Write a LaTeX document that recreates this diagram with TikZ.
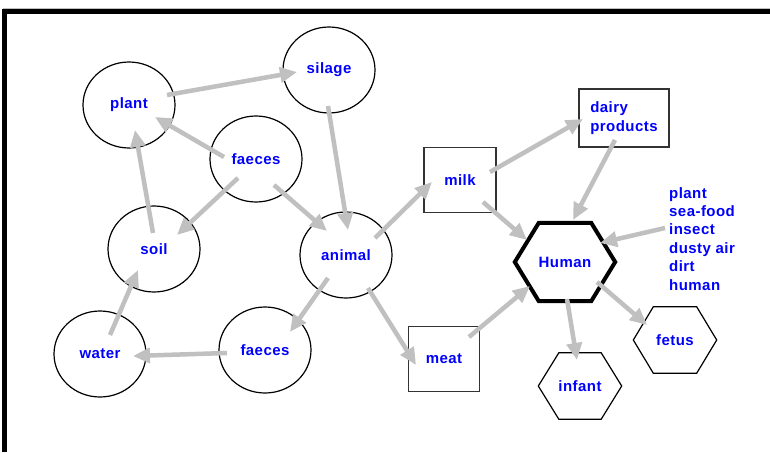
\documentclass[tikz,border=0pt]{standalone}
\usepackage{fontspec}
\setmainfont{Liberation Sans}[LetterSpace=3]
\usetikzlibrary{shapes.geometric,arrows.meta,calc}
\definecolor{lbl}{RGB}{0,0,255}
\definecolor{arrgray}{RGB}{192,192,192}
\newcommand\hexframe[3]{\draw[#3] (#1.west) -- ([xshift=#2]#1.north west) -- ([xshift=-#2]#1.north east) -- (#1.east) -- ([xshift=-#2]#1.south east) -- ([xshift=#2]#1.south west) -- cycle;}
\begin{document}
\begin{tikzpicture}[x=1pt,y=-1pt,
  every node/.style={font=\fontsize{15}{18.4}\selectfont\bfseries, text=lbl},
  circ/.style={ellipse, draw=black, line width=1.2pt, minimum width=92pt, minimum height=86pt, inner sep=0pt},
  sqbox/.style={rectangle, draw=black!80, line width=1.2pt, inner sep=0pt},
  hexn/.style={rectangle, inner sep=0pt},
  arr/.style={draw=arrgray, line width=4.5pt, -{Triangle[length=17pt,width=15pt]}}]
\useasboundingbox (0,0) rectangle (770,452);
\fill[white] (0,0) rectangle (770,452);
\draw[black!25, line width=1pt] (3,8.5) -- (770,8.5);
\draw[black, line width=5pt, line join=miter] (4.7,452) -- (4.7,11.5) -- (770,11.5);
% nodes
\node[circ] (plant) at (129,105) {plant};
\node[circ] (silage) at (329,70) {silage};
\node[circ] (faecesA) at (256,159) {faeces};
\node[circ] (soil) at (154,249) {soil};
\node[circ] (animal) at (346,255) {animal};
\node[circ] (water) at (100,354) {water};
\node[circ] (faecesB) at (265,350) {faeces};
\node[sqbox, minimum width=72pt, minimum height=65pt] (milk) at (460,180) {milk};
\node[sqbox, minimum width=90pt, minimum height=58pt, align=left] (dairy) at (624,118) {dairy\\products};
\node[sqbox, minimum width=71pt, minimum height=65pt] (meat) at (444,359) {meat};
\node[hexn, minimum width=100pt, minimum height=78pt] (human) at (565,262) {Human};
\node[hexn, minimum width=83pt, minimum height=66pt] (infant) at (580,386) {infant};
\node[hexn, minimum width=83pt, minimum height=66pt] (fetus) at (675,340) {fetus};
\node[anchor=north west, align=left, inner sep=0pt] (sources) at (669,187) {plant\\sea-food\\insect\\dusty air\\dirt\\human};
\hexframe{human}{24pt}{line width=4pt, line join=miter}
\hexframe{infant}{20.5pt}{line width=1.2pt}
\hexframe{fetus}{20pt}{line width=1.2pt}
% connectors
\draw[arr] ($(plant)+(38,-10)$) -- ($(silage)+(-32,2)$);
\draw[arr] ($(faecesA)+(-32,-2)$) -- ($(plant)+(26,12)$);
\draw[arr] ($(soil)+(-1,-16)$) -- ($(plant)+(6,25)$);
\draw[arr] ($(faecesA)+(-18,19)$) -- ($(soil)+(23,-14)$);
\draw[arr] ($(faecesA)+(18,26)$) -- ($(animal)+(-19,-24)$);
\draw[arr] ($(silage)+(-1,36)$) -- ($(animal)+(2,-25)$);
\draw[arr] ($(animal)+(29,-17)$) -- ($(milk)+(-28,2)$);
\draw[arr] ($(milk)+(30,-8)$) -- ($(dairy)+(-41,1)$);
\draw[arr] ($(dairy)+(-9,22)$) -- ($(human)+(8,-42)$);
\draw[arr] ($(milk)+(23,22)$) -- ($(human)+(-38,-22)$);
\draw[arr] ($(sources.north west)+(-4,41)$) -- ($(human)+(35,-19)$);
\draw[arr] ($(meat)+(25,-22)$) -- ($(human)+(-35,24)$);
\draw[arr] ($(animal)+(22,33)$) -- ($(meat)+(-28,6)$);
\draw[arr] ($(animal)+(-18,23)$) -- ($(faecesB)+(25,-18)$);
\draw[arr] ($(faecesB)+(-38,3)$) -- ($(water)+(33,2)$);
\draw[arr] ($(water)+(10,-19)$) -- ($(soil)+(-16,21)$);
\draw[arr] ($(human)+(2,37)$) -- ($(infant)+(-3,-26)$);
\draw[arr] ($(human)+(32,20)$) -- ($(fetus)+(-28,-15)$);
\end{tikzpicture}
\end{document}
